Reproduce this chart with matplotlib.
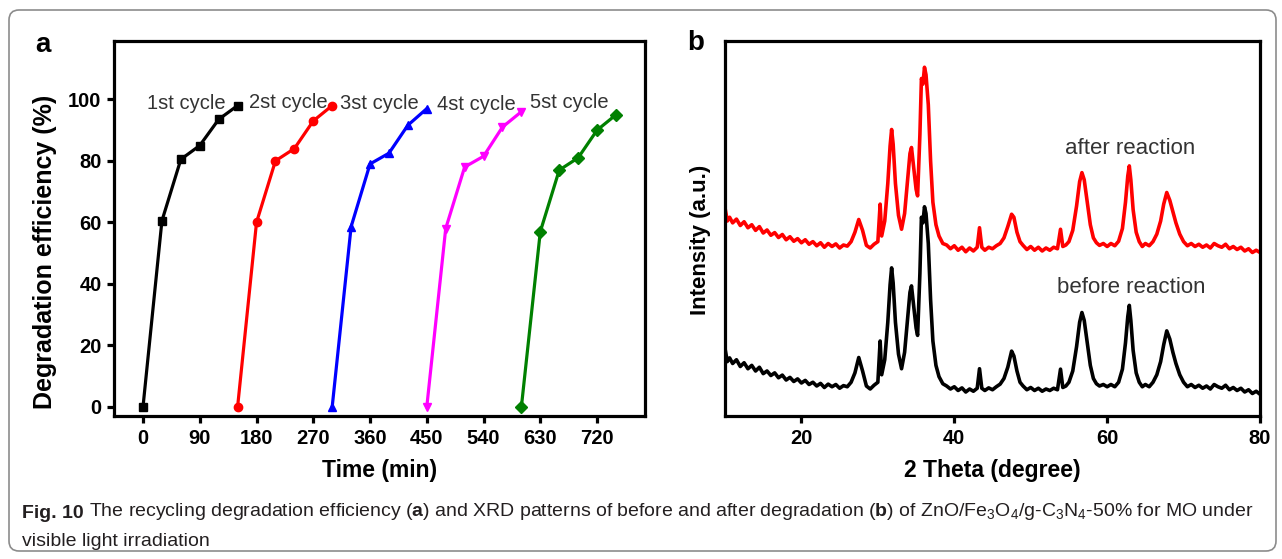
import matplotlib
matplotlib.use("Agg")
import matplotlib.pyplot as plt
from matplotlib.patches import FancyBboxPatch

plt.rcParams['font.family'] = ['Liberation Sans', 'DejaVu Sans']
plt.rcParams['mathtext.fontset'] = 'custom'
plt.rcParams['mathtext.rm'] = 'Liberation Sans'
plt.rcParams['mathtext.bf'] = 'Liberation Sans:bold'

# panel a: recycling runs
cycle_names = ["1st cycle", "2st cycle", "3st cycle", "4st cycle", "5st cycle"]
cycle_time = [
    [0, 30, 60, 90, 120, 150],
    [150, 180, 210, 240, 270, 300],
    [300, 330, 360, 390, 420, 450],
    [450, 480, 510, 540, 570, 600],
    [600, 630, 660, 690, 720, 750],
]
cycle_eff = [
    [0, 60.5, 80.5, 85, 93.5, 98],
    [0, 60, 80, 84, 93, 98],
    [0, 58.6, 79, 82.5, 91.6, 97],
    [0, 58, 78, 81.5, 91, 96],
    [0, 57, 77, 81, 90, 95],
]
label_x = [6, 168, 312, 466, 614]
label_y = [98.7, 99.1, 98.7, 98.5, 99]
time_ticks = [0, 90, 180, 270, 360, 450, 540, 630, 720]
eff_ticks = [0, 20, 40, 60, 80, 100]

# panel b: XRD patterns (a.u.)
two_theta = [10.0, 10.3, 10.6, 11.0, 11.5, 12.0, 12.5, 13.0, 13.5, 14.0, 14.5, 15.0, 15.5,
             16.0, 16.5, 17.0, 17.5, 18.0, 18.5, 19.0, 19.5, 20.0, 20.5, 21.0, 21.5, 22.0,
             22.5, 23.0, 23.5, 24.0, 24.5, 25.0, 25.5, 26.0, 26.5, 27.0, 27.5, 28.0, 28.5,
             29.0, 29.5, 30.0, 30.3, 30.5, 30.9, 31.3, 31.6, 31.8, 32.0, 32.3, 32.7, 33.1,
             33.5, 33.9, 34.2, 34.4, 34.7, 35.0, 35.2, 35.5, 35.7, 35.9, 36.1, 36.3, 36.6,
             36.9, 37.2, 37.6, 38.0, 38.5, 39.0, 39.5, 40.0, 40.5, 41.0, 41.5, 42.0, 42.5,
             43.0, 43.3, 43.6, 44.0, 44.5, 45.0, 45.5, 46.0, 46.5, 47.0, 47.5, 47.8, 48.2,
             48.6, 49.0, 49.5, 50.0, 50.5, 51.0, 51.5, 52.0, 52.5, 53.0, 53.5, 53.9, 54.2,
             54.6, 55.0, 55.5, 56.0, 56.4, 56.7, 57.0, 57.4, 57.8, 58.2, 58.6, 59.0, 59.5,
             60.0, 60.5, 61.0, 61.5, 62.0, 62.4, 62.7, 62.9, 63.1, 63.4, 63.8, 64.2, 64.6,
             65.0, 65.5, 66.0, 66.5, 67.0, 67.4, 67.8, 68.2, 68.6, 69.0, 69.5, 70.0, 70.5,
             71.0, 71.5, 72.0, 72.5, 73.0, 73.5, 74.0, 74.5, 75.0, 75.5, 76.0, 76.5, 77.0,
             77.5, 78.0, 78.5, 79.0, 79.5, 80.0]
after_int = [55.5, 52.0, 53.0, 51.5, 52.5, 50.8, 51.8, 50.2, 51.0, 49.5, 50.5, 48.8, 49.6,
             48.2, 48.9, 47.6, 48.4, 47.0, 47.8, 46.6, 47.3, 46.2, 47.0, 45.8, 46.5, 45.4,
             46.2, 45.0, 46.0, 45.2, 45.9, 44.8, 45.6, 45.3, 46.5, 49.0, 52.4, 49.5, 45.5,
             44.8, 45.8, 46.5, 56.5, 48.0, 52.0, 62.0, 72.0, 76.4, 72.5, 62.0, 53.5, 49.8,
             54.0, 63.0, 70.0, 71.6, 66.0, 60.5, 58.7, 75.0, 90.0, 88.5, 93.0, 91.0, 83.0,
             68.0, 57.0, 51.0, 48.0, 46.0, 45.6, 44.6, 45.4, 44.2, 45.0, 43.8, 44.8, 44.0,
             45.0, 50.2, 45.0, 44.2, 45.0, 44.6, 45.4, 46.0, 47.5, 50.5, 53.8, 53.0, 49.0,
             46.5, 45.5, 44.4, 45.2, 44.2, 45.0, 44.0, 44.8, 44.2, 45.0, 44.6, 49.8, 45.2,
             45.6, 46.5, 49.5, 56.0, 62.5, 64.9, 63.0, 57.0, 51.0, 47.5, 46.2, 45.5, 46.0,
             45.2, 46.0, 45.4, 46.6, 50.0, 57.0, 64.0, 66.7, 63.0, 55.0, 49.0, 46.5, 45.2,
             46.0, 45.4, 46.5, 48.5, 52.0, 56.5, 59.6, 57.5, 54.5, 51.5, 48.5, 46.5, 45.4,
             46.0, 45.2, 45.8, 45.0, 45.6, 44.8, 46.0, 45.4, 45.0, 45.8, 44.6, 45.2, 44.4,
             45.0, 44.0, 44.6, 43.6, 44.2, 43.6]
before_int = [18.0, 14.5, 15.5, 14.0, 15.0, 13.2, 14.2, 12.6, 13.5, 12.0, 13.0, 11.3, 12.0,
              10.8, 11.5, 10.2, 10.9, 9.6, 10.3, 9.2, 9.9, 8.8, 9.5, 8.4, 9.0, 8.0,
              8.7, 7.6, 8.5, 7.8, 8.4, 7.4, 8.1, 7.8, 9.0, 11.5, 15.6, 12.0, 8.0,
              7.2, 8.2, 9.0, 20.0, 11.0, 15.0, 25.0, 35.0, 39.5, 35.5, 25.0, 16.5, 12.6,
              17.0, 26.0, 33.0, 34.7, 29.0, 23.5, 21.5, 38.0, 53.0, 51.5, 55.8, 54.0, 46.0,
              31.0, 20.0, 13.5, 10.5, 8.6, 8.0, 7.2, 7.8, 6.8, 7.5, 6.4, 7.2, 6.6,
              7.4, 12.6, 7.4, 6.8, 7.5, 7.0, 7.8, 8.5, 10.0, 13.0, 17.3, 16.0, 12.0,
              9.0, 8.0, 7.0, 7.6, 6.8, 7.4, 6.6, 7.2, 6.8, 7.4, 7.0, 12.5, 7.6,
              8.0, 9.0, 12.0, 18.5, 25.0, 27.6, 25.5, 19.5, 13.5, 10.0, 8.6, 8.0, 8.4,
              7.8, 8.4, 7.8, 9.0, 12.5, 19.5, 26.5, 29.5, 25.5, 17.5, 11.5, 9.0, 7.8,
              8.4, 7.8, 9.0, 11.0, 14.5, 19.0, 22.7, 20.5, 17.0, 14.0, 11.0, 9.0, 7.8,
              8.4, 7.6, 8.2, 7.4, 8.0, 7.2, 8.4, 7.8, 7.4, 8.2, 7.0, 7.6, 6.8,
              7.4, 6.4, 7.0, 6.0, 6.6, 5.8]
theta_ticks = [20, 40, 60, 80]

colors = ['black', '#ff0000', '#0000ff', '#ff00ff', '#008000']
markers = ['s', 'o', '^', 'v', 'D']
txt_col = '#333333'

fig = plt.figure(figsize=(12.82, 5.59), dpi=100)
W, H = 1282, 559
ax1 = fig.add_axes([114 / W, 1 - 416 / H, (645 - 114) / W, (416 - 41) / H])
ax2 = fig.add_axes([725 / W, 1 - 416 / H, (1260 - 725) / W, (416 - 41) / H])

for i in range(len(cycle_names)):
    ax1.plot(cycle_time[i], cycle_eff[i], color=colors[i], marker=markers[i],
             markersize=6, lw=2.3, clip_on=False)
    ax1.text(label_x[i], label_y[i], cycle_names[i], fontsize=14.5, color=txt_col,
             va='center', ha='left')

ax1.set_xlim(-46, 796)
ax1.set_ylim(-3, 119)
ax1.set_xticks(time_ticks)
ax1.set_yticks(eff_ticks)
ax1.set_xlabel("Time (min)", fontsize=16.5, fontweight='bold', labelpad=8)
ax1.set_ylabel("Degradation efficiency (%)", fontsize=18, fontweight='bold')
ax1.yaxis.set_label_coords(-0.107, 0.437)

ax2.plot(two_theta, after_int, color='#ff0000', lw=2.6)
ax2.plot(two_theta, before_int, color='black', lw=2.6)
ax2.text(63, 71.3, "after reaction", fontsize=16, color=txt_col, ha='center', va='center')
ax2.text(63.2, 34.2, "before reaction", fontsize=16, color=txt_col, ha='center', va='center')
ax2.set_xlim(10, 80)
ax2.set_ylim(0, 100)
ax2.set_xticks(theta_ticks)
ax2.set_yticks([])
ax2.set_xlabel("2 Theta (degree)", fontsize=16.5, fontweight='bold', labelpad=8)
ax2.set_ylabel("Intensity (a.u.)", fontsize=16, fontweight='bold')
ax2.yaxis.set_label_coords(-0.026, 0.47)

for ax in (ax1, ax2):
    for s in ax.spines.values():
        s.set_linewidth(2.3)
    ax.tick_params(direction='out', length=5, width=2.3, labelsize=14.5, pad=4)
    for lab in ax.get_xticklabels() + ax.get_yticklabels():
        lab.set_fontweight('bold')

fig.text(43 / W, 1 - 45 / H, "a", fontsize=20, fontweight='bold', ha='center', va='center')
fig.text(696 / W, 1 - 43 / H, "b", fontsize=20, fontweight='bold', ha='center', va='center')

# caption
fig_no = fig.text(22 / W, 1 - 518 / H, "Fig. 10", fontsize=14, fontweight='bold',
                  color='#231f20', va='baseline', ha='left')
cap1 = (r"The recycling degradation efficiency ($\mathbf{a}$) and XRD patterns "
        r"of before and after degradation ($\mathbf{b}$) of ZnO/Fe$_3$O$_4$/g-C$_3$N$_4$-50% for MO under")
ax1.annotate(cap1, xy=(1, 0), xycoords=fig_no, xytext=(4, 0), textcoords='offset points',
             fontsize=14, color='#231f20', va='bottom', ha='left', annotation_clip=False)
fig.text(22 / W, 1 - 546 / H, "visible light irradiation", fontsize=14, color='#231f20',
         va='baseline', ha='left')

border = FancyBboxPatch((0.09, 0.08), 12.67, 5.41, boxstyle="round,pad=0,rounding_size=0.1",
                        transform=fig.dpi_scale_trans, fill=False, ec='#8c8c8c', lw=1.2)
fig.patches.append(border)

fig.savefig("out.png", dpi=100)
